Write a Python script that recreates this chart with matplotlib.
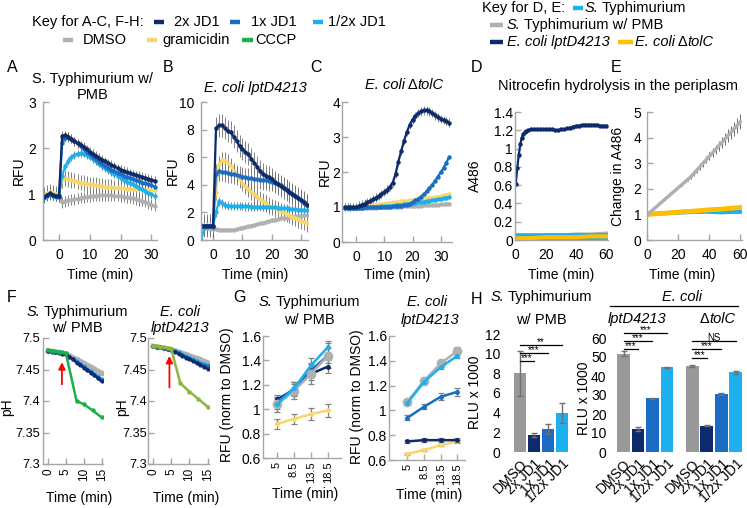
import matplotlib.pyplot as plt
import numpy as np
from matplotlib.lines import Line2D
from matplotlib.ticker import FuncFormatter

plt.rcParams['font.family'] = ['Liberation Sans', 'DejaVu Sans']
plt.rcParams['font.size'] = 10

NAVY = '#0D2B6B'
MID = '#1A6DC2'
LIGHT = '#1CB0EF'
GRAY = '#B0B0B0'
YEL = '#F9D66B'
GREEN = '#1DAF4B'
OLIVE = '#8DB640'
GOLD = '#FFBF00'
HGRAY = '#999999'
AXC = '#A6A6A6'
ERRC = '#6E6E6E'

# ---- A: S. Typhimurium w/ PMB ----
tA = np.arange(-5, 32)
A_2x = [0.93, 0.97, 1.02, 0.98, 0.96, 0.95,
        2.26, 2.28, 2.25, 2.20, 2.15, 2.10, 2.06, 2.02, 1.97, 1.92, 1.87, 1.83, 1.79, 1.75, 1.71,
        1.67, 1.64, 1.60, 1.56, 1.53, 1.50, 1.48, 1.45, 1.43, 1.41, 1.39, 1.37, 1.35, 1.33, 1.31, 1.29]
A_1x = [0.95, 0.98, 1.00, 0.97, 0.95, 0.94,
        2.10, 2.22, 2.24, 2.20, 2.15, 2.10, 2.04, 1.98, 1.92, 1.86, 1.81, 1.76, 1.70, 1.65, 1.61,
        1.57, 1.53, 1.50, 1.46, 1.43, 1.40, 1.37, 1.35, 1.32, 1.30, 1.28, 1.25, 1.23, 1.21, 1.19, 1.16]
A_half = [0.92, 0.96, 0.99, 0.96, 0.94, 0.93,
          1.40, 1.60, 1.72, 1.80, 1.85, 1.88, 1.89, 1.88, 1.85, 1.81, 1.76, 1.71, 1.66, 1.61, 1.56,
          1.52, 1.47, 1.43, 1.39, 1.35, 1.31, 1.27, 1.24, 1.21, 1.17, 1.14, 1.11, 1.07, 1.03, 0.99, 0.95]
A_gram = [0.98, 1.02, 1.05, 1.03, 1.01, 1.00,
          1.30, 1.34, 1.33, 1.31, 1.29, 1.27, 1.25, 1.24, 1.22, 1.21, 1.20, 1.19, 1.18, 1.17, 1.16,
          1.15, 1.15, 1.14, 1.13, 1.12, 1.12, 1.11, 1.11, 1.10, 1.10, 1.10, 1.09, 1.09, 1.09, 1.08, 1.08]
A_dmso = [0.96, 0.99, 1.02, 0.99, 0.97, 0.95,
          0.82, 0.84, 0.86, 0.88, 0.89, 0.90, 0.92, 0.93, 0.94, 0.95, 0.96, 0.96, 0.97, 0.97, 0.97,
          0.97, 0.97, 0.96, 0.96, 0.95, 0.94, 0.93, 0.92, 0.91, 0.89, 0.87, 0.85, 0.83, 0.80, 0.77, 0.74]
A_err = {'2x': 0.10, '1x': 0.10, 'half': 0.08, 'gram': 0.17, 'dmso': 0.12}

# ---- B: E. coli lptD4213 ----
tB = np.arange(-4, 33)
B_2x = [1.05, 1.05, 1.05, 1.05, 1.00,
        8.10, 8.30, 8.30, 8.10, 7.90, 7.80, 7.50, 7.20, 6.80, 6.60, 6.40, 6.20, 5.90, 5.60, 5.30,
        5.00, 4.80, 4.65, 4.55, 4.40, 4.20, 4.05, 3.90, 3.75, 3.60, 3.50, 3.35, 3.20, 3.05, 2.90, 2.75, 2.55]
B_1x = [1.00, 1.00, 1.00, 1.00, 0.95,
        4.80, 5.00, 4.95, 4.90, 4.85, 4.80, 4.75, 4.70, 4.65, 4.60, 4.55, 4.50, 4.47, 4.44, 4.41,
        4.38, 4.35, 4.32, 4.28, 4.22, 4.15, 4.05, 3.95, 3.80, 3.65, 3.50, 3.35, 3.20, 3.05, 2.90, 2.70, 2.55]
B_half = [0.00, 0.90, 0.95, 1.00, 1.00,
          2.00, 2.80, 2.65, 2.55, 2.50, 2.48, 2.46, 2.45, 2.45, 2.44, 2.43, 2.43, 2.42, 2.42, 2.41,
          2.41, 2.40, 2.40, 2.39, 2.38, 2.37, 2.35, 2.33, 2.31, 2.29, 2.27, 2.25, 2.23, 2.21, 2.19, 2.18, 2.17]
B_gram = [1.10, 1.10, 1.10, 1.10, 1.10,
          3.50, 5.50, 5.80, 5.75, 5.60, 5.35, 5.00, 4.70, 4.40, 4.15, 3.90, 3.70, 3.50, 3.30, 3.10,
          2.95, 2.80, 2.65, 2.50, 2.40, 2.30, 2.20, 2.10, 2.00, 1.90, 1.80, 1.70, 1.60, 1.50, 1.40, 1.30, 1.20]
B_dmso = [1.00, 0.90, 0.85, 0.82, 0.80,
          0.78, 0.76, 0.75, 0.74, 0.74, 0.74, 0.75, 0.80, 0.84, 0.88, 0.93, 0.99, 1.05, 1.10, 1.15,
          1.20, 1.26, 1.32, 1.38, 1.43, 1.48, 1.52, 1.56, 1.60, 1.63, 1.66, 1.69, 1.72, 1.75, 1.77, 1.79, 1.81]
B_err = {'2x': 0.8, '1x': 0.7, 'half': 0.3, 'gram': 0.6, 'dmso': 0.1}

# ---- C: E. coli dtolC ----
tC = np.arange(-4, 34)
C_2x = [1.00, 1.00, 1.00, 1.00, 1.00,
        1.04, 1.07, 1.10, 1.14, 1.18, 1.22, 1.27, 1.32, 1.37, 1.43, 1.50, 1.58, 1.70, 1.95, 2.30,
        2.60, 2.90, 3.14, 3.35, 3.50, 3.60, 3.68, 3.73, 3.76, 3.76, 3.73, 3.68, 3.62, 3.56, 3.52,
        3.48, 3.45, 3.41]
C_1x = [0.98, 0.98, 0.98, 0.98, 0.98,
        0.98, 0.98, 0.99, 0.99, 0.99, 1.00, 1.00, 1.00, 1.00, 1.01, 1.01, 1.01, 1.02, 1.02, 1.03,
        1.04, 1.05, 1.07, 1.10, 1.14, 1.19, 1.24, 1.30, 1.37, 1.45, 1.54, 1.64, 1.75, 1.87, 1.99,
        2.12, 2.27, 2.43]
C_half = [0.96, 0.96, 0.97, 0.97, 0.97,
          0.98, 0.98, 0.99, 0.99, 1.00, 1.00, 1.01, 1.01, 1.02, 1.02, 1.03, 1.04, 1.04, 1.05, 1.06,
          1.07, 1.08, 1.09, 1.10, 1.11, 1.12, 1.13, 1.14, 1.15, 1.16, 1.18, 1.19, 1.21, 1.22, 1.24,
          1.25, 1.27, 1.28]
C_gram = [1.00, 1.00, 1.00, 1.00, 1.00,
          1.01, 1.02, 1.03, 1.04, 1.05, 1.06, 1.07, 1.08, 1.09, 1.10, 1.11, 1.12, 1.13, 1.14, 1.15,
          1.16, 1.17, 1.18, 1.19, 1.20, 1.21, 1.22, 1.23, 1.24, 1.25, 1.26, 1.27, 1.29, 1.30, 1.31,
          1.33, 1.35, 1.37]
C_dmso = [0.97, 0.97, 0.97, 0.97, 0.97,
          0.97, 0.97, 0.97, 0.98, 0.98, 0.98, 0.98, 0.99, 0.99, 0.99, 1.00, 1.00, 1.00, 1.01, 1.01,
          1.01, 1.02, 1.02, 1.02, 1.03, 1.03, 1.04, 1.04, 1.05, 1.05, 1.06, 1.06, 1.07, 1.07, 1.08,
          1.08, 1.09, 1.10]
C_err = {'2x': 0.12, '1x': 0.03, 'half': 0.03, 'gram': 0.03, 'dmso': 0.03}

# ---- D: nitrocefin A486 ----
tD = [0, 1, 2, 3, 4, 5, 6, 7, 8, 10, 12, 14, 16, 18, 20, 22, 24, 26, 28, 30, 32, 34, 36, 38,
      40, 42, 44, 46, 48, 50, 52, 54, 56, 58, 60]
D_lpt = [0.61, 0.79, 0.93, 1.05, 1.12, 1.16, 1.18, 1.19, 1.20,
         1.21, 1.21, 1.21, 1.21, 1.21, 1.21, 1.21, 1.21, 1.20, 1.20,
         1.21, 1.21, 1.22, 1.23, 1.24, 1.25, 1.25, 1.26, 1.26, 1.26,
         1.26, 1.26, 1.26, 1.25, 1.25, 1.25]
tDf = [0, 10, 20, 30, 40, 50, 60]
D_st = [0.03, 0.03, 0.03, 0.03, 0.03, 0.03, 0.03]
D_pmb = [0.04, 0.04, 0.05, 0.05, 0.06, 0.06, 0.07]
D_tolc = [0.02, 0.02, 0.03, 0.03, 0.03, 0.04, 0.04]

# ---- E: change in A486 ----
tE = np.arange(0, 61, 2)
E_pmb = [1.00, 1.10, 1.21, 1.31, 1.42, 1.52, 1.63, 1.73, 1.84, 1.94, 2.05, 2.15, 2.26, 2.36, 2.47,
         2.60, 2.74, 2.87, 3.00, 3.14, 3.27, 3.41, 3.54, 3.68, 3.81, 3.94, 4.08, 4.21, 4.35, 4.48, 4.62]
E_pmb_err = [0, 0, 0, 0, 0, 0, 0, 0, 0, 0,
             0.03, 0.04, 0.05, 0.07, 0.08, 0.10, 0.11, 0.12, 0.14, 0.15, 0.16, 0.18, 0.19, 0.20,
             0.22, 0.23, 0.24, 0.26, 0.27, 0.29, 0.30]
E_tolc = [1.00, 1.01, 1.02, 1.03, 1.04, 1.04, 1.05, 1.06, 1.07, 1.08, 1.09, 1.10, 1.11, 1.11, 1.12,
          1.13, 1.14, 1.15, 1.16, 1.17, 1.18, 1.19, 1.19, 1.20, 1.21, 1.22, 1.23, 1.24, 1.25, 1.26, 1.27]
E_st = [1.00, 1.01, 1.02, 1.03, 1.04, 1.04, 1.05, 1.06, 1.06, 1.07, 1.07, 1.08, 1.08, 1.09, 1.09,
        1.10, 1.10, 1.10, 1.10, 1.11, 1.10, 1.10, 1.09, 1.09, 1.08, 1.09, 1.09, 1.10, 1.10, 1.10, 1.10]

# ---- F: pH ----
tF = np.arange(0, 16)
F1_dmso = [7.480, 7.479, 7.478, 7.477, 7.476, 7.475, 7.472, 7.469, 7.466, 7.463, 7.460, 7.457,
           7.454, 7.451, 7.447, 7.444]
F1_2x = [7.479, 7.478, 7.477, 7.476, 7.475, 7.474, 7.470, 7.466, 7.461, 7.457, 7.453, 7.449,
         7.445, 7.441, 7.436, 7.431]
F1_1x = [7.480, 7.479, 7.478, 7.477, 7.476, 7.474, 7.470, 7.466, 7.462, 7.458, 7.454, 7.450,
         7.446, 7.442, 7.437, 7.433]
F1_half = [7.480, 7.479, 7.478, 7.477, 7.476, 7.475, 7.471, 7.467, 7.463, 7.459, 7.455, 7.451,
           7.447, 7.443, 7.439, 7.435]
tF1_cccp = [0, 1, 2, 3, 4, 5, 8, 10, 12.5, 15]
F1_cccp = [7.481, 7.480, 7.479, 7.478, 7.477, 7.476, 7.400, 7.395, 7.385, 7.374]
F2_dmso = [7.487, 7.486, 7.485, 7.484, 7.483, 7.482, 7.480, 7.478, 7.476, 7.474, 7.472, 7.470,
           7.468, 7.466, 7.463, 7.461]
F2_2x = [7.487, 7.486, 7.485, 7.484, 7.483, 7.481, 7.478, 7.475, 7.472, 7.469, 7.466, 7.463,
         7.460, 7.457, 7.454, 7.451]
F2_1x = [7.487, 7.486, 7.485, 7.484, 7.483, 7.481, 7.479, 7.476, 7.473, 7.470, 7.468, 7.465,
         7.462, 7.459, 7.457, 7.455]
F2_half = [7.487, 7.486, 7.485, 7.484, 7.483, 7.482, 7.479, 7.477, 7.474, 7.472, 7.469, 7.466,
           7.464, 7.461, 7.459, 7.457]
tF2_cccp = [0, 1, 2, 3, 4, 5, 7.5, 10, 12.5, 15]
F2_cccp = [7.488, 7.487, 7.486, 7.485, 7.484, 7.483, 7.428, 7.415, 7.403, 7.391]

# ---- G: RFU norm to DMSO ----
G_times = ['5', '8.5', '13.5', '18.5']
G1 = {'dmso': [1.04, 1.15, 1.29, 1.44], '2x': [1.08, 1.16, 1.29, 1.35], '1x': [1.06, 1.17, 1.32, 1.44],
      'half': [1.04, 1.17, 1.36, 1.51], 'gram': [0.88, 0.92, 0.96, 0.99]}
G1_err = {'dmso': [0.06, 0.07, 0.08, 0.10], '2x': [0.04, 0.05, 0.05, 0.05], '1x': [0.04, 0.05, 0.06, 0.06],
          'half': [0.04, 0.05, 0.06, 0.05], 'gram': [0.04, 0.04, 0.05, 0.05]}
G2 = {'dmso': [1.07, 1.24, 1.38, 1.48], '2x': [0.75, 0.76, 0.76, 0.76], '1x': [0.94, 1.03, 1.11, 1.15],
      'half': [1.06, 1.23, 1.35, 1.44], 'gram': [0.65, 0.68, 0.72, 0.75]}
G2_err = {'dmso': [0.02, 0.02, 0.03, 0.03], '2x': [0.015, 0.015, 0.015, 0.015], '1x': [0.02, 0.02, 0.03, 0.03],
          'half': [0.02, 0.02, 0.02, 0.02], 'gram': [0.01, 0.01, 0.01, 0.01]}

# ---- H: RLU ----
H_labels = ['DMSO', '2x JD1', '1x JD1', '1/2x JD1']
H1_vals = [8.0, 1.7, 2.3, 4.0]
H1_err = [2.3, 0.2, 0.5, 1.0]
H2_lpt = [51.8, 12.0, 28.2, 44.5]
H2_lpt_err = [1.2, 1.0, 0.4, 0.4]
H2_tolc = [45.3, 13.9, 30.5, 42.0]
H2_tolc_err = [0.3, 0.3, 0.5, 0.7]

W, H = 747, 508
fig = plt.figure(figsize=(W / 100, H / 100), dpi=100)
rend = fig.canvas.get_renderer()


def px_ax(l, t, r, b):
    return fig.add_axes([l / W, 1 - b / H, (r - l) / W, (b - t) / H])


def ftxt(x, y, s, **kw):
    kw.setdefault('ha', 'center')
    kw.setdefault('va', 'center')
    return fig.text(x / W, 1 - y / H, s, **kw)


def rich(x, y, parts, ha='left', size=10.5):
    # parts: (text, fontstyle, gap in px after it), laid out side by side
    arts = [fig.text(0, 1 - y / H, s, size=size, style=st, ha='left', va='center') for s, st, g in parts]
    ws = [a.get_window_extent(rend).width + g for a, (s, st, g) in zip(arts, parts)]
    x0 = x if ha == 'left' else x - sum(ws) / 2
    for a, w in zip(arts, ws):
        a.set_x(x0 / W)
        x0 += w


S_TYPH = [('S.', 'italic', 3), ('Typhimurium', 'normal', 0)]
E_TOLC = [('E. coli', 'italic', 3), ('Δ', 'normal', 0), ('tolC', 'italic', 0)]


def seg(x0, x1, y, c):
    fig.add_artist(Line2D([x0 / W, x1 / W], [1 - y / H, 1 - y / H], color=c, lw=3.2,
                          solid_capstyle='butt'))


fmt = FuncFormatter(lambda v, p: f'{v:g}')


def style(ax, ypad):
    for s in ['top', 'right']:
        ax.spines[s].set_visible(False)
    for s in ['left', 'bottom']:
        ax.spines[s].set_color(AXC)
        ax.spines[s].set_linewidth(1.0)
    ax.tick_params(direction='in', length=4, color=AXC, width=1, labelsize=10)
    ax.tick_params(axis='x', pad=6)
    ax.tick_params(axis='y', pad=ypad)
    ax.yaxis.set_major_formatter(fmt)
    ax.patch.set_alpha(0)


def lines(ax, t, series, errs, lw=1.6, ms=2.2):
    for key, c in [('dmso', GRAY), ('gram', YEL), ('half', LIGHT), ('1x', MID), ('2x', NAVY)]:
        ax.errorbar(t, series[key], yerr=errs[key], color=c, lw=lw, marker='o', ms=ms,
                    ecolor=ERRC, elinewidth=0.6, capsize=0)


# A
axA = px_ax(43, 102, 157, 240)
style(axA, 5)
lines(axA, tA, {'2x': A_2x, '1x': A_1x, 'half': A_half, 'gram': A_gram, 'dmso': A_dmso}, A_err)
axA.set_xlim(-5.2, 31.8)
axA.set_ylim(0, 3)
axA.set_xticks([0, 10, 20, 30])
axA.set_yticks([0, 1, 2, 3])

# B
axB = px_ax(201, 102, 308, 240)
style(axB, 5)
lines(axB, tB, {'2x': B_2x, '1x': B_1x, 'half': B_half, 'gram': B_gram, 'dmso': B_dmso}, B_err)
axB.set_xlim(-4.1, 32.3)
axB.set_ylim(0, 10)
axB.set_xticks([0, 10, 20, 30])
axB.set_yticks([0, 2, 4, 6, 8, 10])

# C
axC = px_ax(342, 102, 452, 242)
style(axC, 1)
lines(axC, tC, {'2x': C_2x, '1x': C_1x, 'half': C_half, 'gram': C_gram, 'dmso': C_dmso}, C_err)
axC.set_xlim(-5, 34)
axC.set_ylim(0, 4)
axC.set_xticks([0, 10, 20, 30])
axC.set_yticks([0, 1, 2, 3, 4])

# D
axD = px_ax(515, 112, 608, 240)
style(axD, 1.5)
axD.plot(tDf, D_pmb, color=GRAY, lw=3)
axD.plot(tDf, D_st, color=LIGHT, lw=5.5)
axD.plot(tDf, D_tolc, color=GOLD, lw=3)
axD.plot(tD, D_lpt, color=NAVY, lw=1.6, marker='o', ms=2.2)
axD.set_xlim(-0.5, 61)
axD.set_ylim(0, 1.4)
axD.set_xticks([0, 20, 40, 60])
axD.set_yticks(np.arange(0, 1.41, 0.2))

# E
axE = px_ax(647, 112, 742, 240)
style(axE, 4)
axE.errorbar(tE, E_pmb, yerr=E_pmb_err, color=GRAY, lw=2.5, ecolor='#555555', elinewidth=0.6, capsize=0)
axE.plot(tE, E_st, color=LIGHT, lw=3)
axE.plot(tE, E_tolc, color=GOLD, lw=3.5)
axE.set_xlim(-0.3, 61)
axE.set_ylim(0, 5)
axE.set_xticks([0, 20, 40, 60])
axE.set_yticks([0, 1, 2, 3, 4, 5])

# F
for box, ypad, d, b2, b1, bh, tc, cc, ccol, arr in [
        ((43, 338, 103, 464), 2, F1_dmso, F1_2x, F1_1x, F1_half, tF1_cccp, F1_cccp, GREEN,
         (3.9, 7.422, 7.466)),
        ((148, 338, 209, 464), 1, F2_dmso, F2_2x, F2_1x, F2_half, tF2_cccp, F2_cccp, OLIVE,
         (4.5, 7.417, 7.476))]:
    ax = px_ax(*box)
    style(ax, ypad)
    ax.plot(tF, d, color=GRAY, lw=3.5, marker='o', ms=3)
    ax.plot(tF, bh, color=LIGHT, lw=1.8, marker='o', ms=2)
    ax.plot(tF, b1, color=MID, lw=1.8, marker='o', ms=2)
    ax.plot(tF, b2, color=NAVY, lw=1.8, marker='o', ms=2)
    ax.plot(tc, cc, color=ccol, lw=1.8, marker='o', ms=2.2)
    ax.annotate('', xy=(arr[0], arr[2]), xytext=(arr[0], arr[1]),
                arrowprops=dict(arrowstyle='-|>', color='red', lw=1.3, mutation_scale=10))
    ax.set_xlim(-1.4, 15.4)
    ax.set_ylim(7.3, 7.5)
    ax.set_xticks([0, 5, 10, 15])
    ax.set_yticks([7.3, 7.35, 7.4, 7.45, 7.5])
    ax.tick_params(axis='x', labelrotation=90, pad=3, labelsize=8.5)
    ax.tick_params(axis='y', labelsize=9.2)

# G
for box, data, errs, xl in [((263, 336, 341, 458), G1, G1_err, (-0.82, 3.76)),
                            ((389, 336, 465, 460), G2, G2_err, (-1.1, 3.45))]:
    ax = px_ax(*box)
    style(ax, 1.5)
    xs = np.arange(len(G_times))
    for key, c, ms in [('gram', YEL, 2.5), ('2x', NAVY, 2.5), ('1x', MID, 2.5), ('dmso', GRAY, 6),
                       ('half', LIGHT, 2.5)]:
        ax.errorbar(xs, data[key], yerr=errs[key], color=c, lw=1.8, marker='o', ms=ms,
                    ecolor='#808080', elinewidth=0.9, capsize=2.5, capthick=0.9)
    ax.set_xlim(*xl)
    ax.set_ylim(0.6, 1.6)
    ax.set_xticks(xs)
    ax.set_xticklabels(G_times)
    ax.set_yticks(np.arange(0.6, 1.61, 0.2))
    ax.tick_params(axis='x', labelrotation=90, pad=2.5, labelsize=8)

# H
bar_cols = [HGRAY, NAVY, MID, LIGHT]
ekw = dict(ecolor='#707070', elinewidth=1, capsize=2.5, capthick=1)


def hstyle(ax):
    for s in ax.spines.values():
        s.set_visible(False)
    ax.tick_params(length=0, labelsize=10)
    ax.tick_params(axis='y', pad=4)
    ax.patch.set_alpha(0)


def sig(ax, x0, x1, y, s):
    ax.plot([x0, x1], [y, y], color='black', lw=0.9, clip_on=False)
    ax.annotate(s, ((x0 + x1) / 2, y), xytext=(0, -1.5), textcoords='offset points',
                ha='center', va='bottom', fontsize=7, annotation_clip=False)


axH1 = px_ax(506, 334, 572, 452)
hstyle(axH1)
xh = np.arange(4)
axH1.bar(xh, H1_vals, width=0.88, color=bar_cols, yerr=H1_err, error_kw=ekw)
axH1.set_xlim(-1.0, 3.7)
axH1.set_ylim(0, 12)
axH1.set_yticks(np.arange(0, 13, 2))
axH1.set_xticks(xh)
axH1.set_xticklabels(H_labels, rotation=45, ha='right', rotation_mode='anchor')
sig(axH1, 0, 1, 9.3, '***')
sig(axH1, 0, 2, 10.1, '***')
sig(axH1, 0, 3, 10.9, '**')

axH2 = px_ax(612, 338, 745, 452)
hstyle(axH2)
xl = np.arange(4)
xt = np.arange(4) + 4.75
axH2.bar(xl, H2_lpt, width=0.88, color=bar_cols, yerr=H2_lpt_err, error_kw=ekw)
axH2.bar(xt, H2_tolc, width=0.88, color=bar_cols, yerr=H2_tolc_err, error_kw=ekw)
axH2.set_xlim(-0.8, 8.4)
axH2.set_ylim(0, 60)
axH2.set_yticks(np.arange(0, 61, 10))
axH2.set_xticks(np.concatenate([xl, xt]))
axH2.set_xticklabels(H_labels * 2, rotation=45, ha='right', rotation_mode='anchor')
sig(axH2, xl[0], xl[1], 54.1, '***')
sig(axH2, xl[0], xl[2], 58.6, '***')
sig(axH2, xl[0], xl[3], 62.5, '***')
sig(axH2, xt[0], xt[1], 49.3, '***')
sig(axH2, xt[0], xt[2], 54.1, '***')
sig(axH2, xt[0], xt[3], 58.6, 'NS')

# legends
LS = 10.5
ftxt(32, 22, 'Key for A-C, F-H:', ha='left', size=LS)
seg(154, 164, 22, NAVY)
ftxt(174, 22, '2x JD1', ha='left', size=LS)
seg(230, 240, 22, MID)
ftxt(251, 22, '1x JD1', ha='left', size=LS)
seg(313, 323, 22, LIGHT)
ftxt(328, 22, '1/2x JD1', ha='left', size=LS)
seg(63, 73, 40, GRAY)
ftxt(83, 40, 'DMSO', ha='left', size=LS)
seg(147, 157, 40, YEL)
ftxt(162, 40, 'gramicidin', ha='left', size=LS)
seg(242, 253, 40, GREEN)
ftxt(255, 40, 'CCCP', ha='left', size=LS)

ftxt(482, 8, 'Key for D, E:', ha='left', size=LS)
seg(573, 583, 8, LIGHT)
rich(585, 8, S_TYPH)
seg(490, 503, 25, GRAY)
rich(507, 25, [('S.', 'italic', 3), ('Typhimurium w/ PMB', 'normal', 0)])
seg(490, 503, 42, NAVY)
ftxt(507, 42, 'E. coli lptD4213', ha='left', size=LS, style='italic')
seg(618, 633, 42, GOLD)
rich(635, 42, E_TOLC)

# panel letters
for x, y, s in [(12, 67, 'A'), (168, 67, 'B'), (316, 67, 'C'), (476, 68, 'D'), (616, 67, 'E'),
                (12, 297, 'F'), (239, 297, 'G'), (477, 299, 'H')]:
    ftxt(x, y, s, size=11.5)

# titles
ftxt(93, 79, 'S. Typhimurium w/', size=LS)
ftxt(93, 95, 'PMB', size=LS)
ftxt(255, 88, 'E. coli lptD4213', size=LS, style='italic')
rich(404, 85, E_TOLC, ha='center')
ftxt(618, 86, 'Nitrocefin hydrolysis in the periplasm', size=LS)
for x, y in [(77, 312), (309, 302), (541, 297)]:
    rich(x, y, S_TYPH, ha='center')
for x, y in [(77, 328), (309, 320), (541, 320)]:
    ftxt(x, y, 'w/ PMB', size=LS)
ftxt(180, 312, 'E. coli', size=LS, style='italic')
ftxt(180, 328, 'lptD4213', size=LS, style='italic')
ftxt(427, 302, 'E. coli', size=LS, style='italic')
ftxt(430, 320, 'lptD4213', size=LS, style='italic')
ftxt(682, 297, 'E. coli', size=LS, style='italic')
fig.add_artist(Line2D([610 / W, 738 / W], [1 - 306 / H, 1 - 306 / H], color='black', lw=0.9))
ftxt(637, 319, 'lptD4213', size=LS, style='italic')
rich(718, 319, [('Δ', 'normal', 0), ('tolC', 'italic', 0)], ha='center')

# axis labels
for x, y in [(100, 275), (255, 275), (397, 275), (561, 275), (682, 275),
             (79, 498), (186, 498), (305, 494), (429, 495)]:
    ftxt(x, y, 'Time (min)', size=10)
for x, y, s in [(18.5, 171, 'RFU'), (172.5, 171, 'RFU'), (325, 172, 'RFU'), (475, 176, 'A486'),
                (618, 176, 'Change in A486'), (7.5, 407, 'pH'), (122, 407, 'pH'),
                (227, 395, 'RFU (norm to DMSO)'), (357, 397, 'RFU (norm to DMSO)'),
                (475, 392, 'RLU x 1000'), (584, 398, 'RLU x 1000')]:
    ftxt(x, y, s, size=10, rotation=90)

fig.savefig('out.png', dpi=100)
